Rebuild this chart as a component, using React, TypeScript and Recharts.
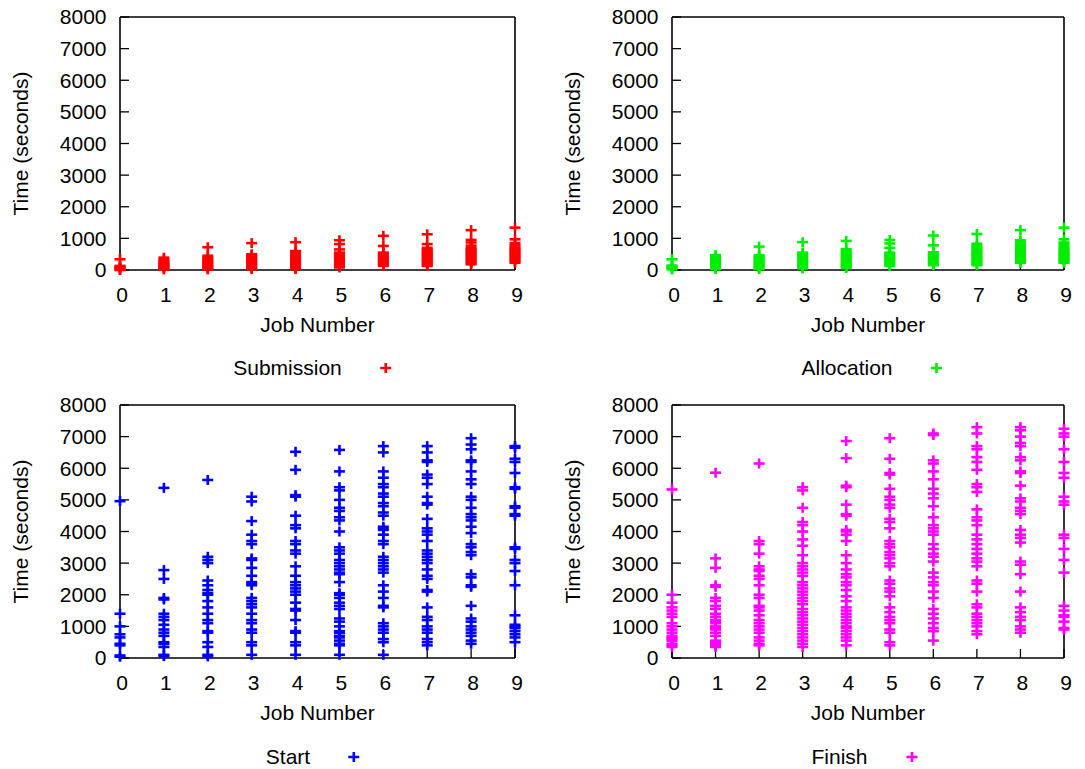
import React from 'react';
import { ScatterChart, Scatter, XAxis, YAxis } from 'recharts';

const jobTicks = [0, 1, 2, 3, 4, 5, 6, 7, 8, 9];
const timeTicks = [0, 1000, 2000, 3000, 4000, 5000, 6000, 7000, 8000];

// seconds, one list per job number (0..9)
const submissionTimes: number[][] = [
  [0, 20, 50, 80, 100, 130, 340],
  [20, 50, 80, 100, 130, 150, 180, 220, 250, 290, 340, 390],
  [20, 50, 80, 110, 140, 180, 220, 260, 300, 350, 400, 450, 720],
  [30, 60, 100, 130, 160, 200, 230, 270, 300, 340, 380, 420, 450, 500, 850],
  [30, 60, 100, 140, 180, 220, 260, 300, 340, 380, 420, 450, 500, 550, 600, 880],
  [80, 120, 160, 200, 240, 280, 320, 360, 400, 440, 480, 520, 550, 650, 820, 940],
  [130, 170, 210, 250, 290, 330, 370, 410, 450, 500, 550, 760, 1080],
  [130, 160, 200, 240, 280, 320, 360, 400, 440, 480, 520, 560, 600, 650, 700, 820, 1130],
  [180, 220, 260, 300, 340, 380, 420, 460, 500, 540, 580, 620, 660, 700, 770, 870, 950, 1260],
  [230, 270, 310, 350, 390, 430, 470, 510, 550, 590, 630, 670, 720, 780, 850, 970, 1340],
];

const allocationTimes: number[][] = [
  [20, 50, 80, 110, 140, 340],
  [30, 60, 100, 140, 180, 220, 260, 300, 340, 380, 420, 470],
  [30, 60, 100, 140, 180, 220, 260, 300, 340, 380, 420, 470, 740],
  [50, 80, 120, 160, 200, 240, 280, 320, 360, 400, 440, 500, 550, 880],
  [60, 100, 140, 180, 220, 260, 300, 340, 380, 420, 460, 500, 550, 600, 660, 920],
  [130, 170, 210, 250, 290, 330, 370, 410, 450, 500, 550, 700, 840, 950],
  [150, 190, 230, 270, 310, 350, 390, 430, 470, 520, 560, 780, 1090],
  [150, 190, 230, 270, 310, 350, 390, 430, 470, 510, 550, 600, 650, 700, 760, 830, 1140],
  [230, 270, 310, 350, 390, 430, 470, 510, 550, 600, 650, 700, 750, 800, 870, 940, 1260],
  [230, 270, 310, 350, 390, 430, 470, 510, 550, 600, 650, 700, 760, 820, 870, 970, 1340],
];

const startTimes: number[][] = [
  [40, 80, 400, 450, 650, 750, 1000, 1400, 4960],
  [60, 100, 350, 450, 500, 700, 800, 900, 1050, 1200, 1300, 1400, 1850, 1900, 2500, 2780, 5380],
  [50, 100, 350, 500, 800, 850, 1100, 1200, 1400, 1600, 1800, 2000, 2050, 2150, 2300, 2450, 3000, 3100, 3200, 5630],
  [100, 400, 500, 800, 900, 1100, 1200, 1400, 1600, 1700, 1800, 1900, 2300, 2350, 2400, 2600, 2850, 3100, 3150, 3600, 3700, 3900, 4330, 4950, 5100],
  [100, 400, 500, 800, 850, 1200, 1500, 1550, 1750, 2000, 2100, 2200, 2300, 2400, 2600, 2900, 3300, 3400, 3600, 3700, 4100, 4200, 4500, 5100, 5150, 5950, 6520],
  [100, 400, 450, 550, 650, 700, 800, 850, 1000, 1150, 1250, 1550, 1650, 1750, 1900, 2000, 2050, 2400, 2650, 2700, 2800, 2900, 3000, 3100, 3300, 3400, 3500, 4000, 4350, 4450, 4650, 4750, 5000, 5300, 5400, 5900, 6580],
  [100, 500, 600, 800, 900, 1000, 1100, 1600, 1650, 1900, 2100, 2300, 2700, 2800, 2900, 3000, 3100, 3200, 3600, 3700, 3900, 4050, 4100, 4150, 4500, 4600, 4800, 4900, 5100, 5200, 5400, 5500, 5700, 5900, 6500, 6700],
  [400, 500, 600, 800, 900, 1000, 1200, 1300, 1600, 2100, 2150, 2500, 2600, 2800, 3000, 3100, 3200, 3300, 3400, 3700, 3900, 4000, 4100, 4400, 4850, 4900, 5100, 5500, 5700, 5800, 6200, 6250, 6500, 6700],
  [450, 550, 700, 800, 900, 1000, 1150, 1250, 1650, 2250, 2300, 2550, 2650, 3250, 3350, 3500, 3600, 3950, 4150, 4350, 4450, 4550, 4750, 5000, 5100, 5500, 5650, 5900, 6200, 6250, 6600, 6750, 6950],
  [500, 650, 750, 850, 950, 1000, 1050, 1350, 2300, 2750, 3000, 3100, 3450, 3500, 4500, 4550, 4750, 4800, 5350, 5400, 5850, 6200, 6300, 6650, 6700],
];

const finishTimes: number[][] = [
  [350, 400, 450, 550, 600, 650, 700, 800, 900, 1000, 1100, 1300, 1400, 1500, 1600, 1750, 2000, 5330],
  [350, 400, 450, 500, 550, 700, 800, 900, 950, 1000, 1100, 1150, 1200, 1300, 1400, 1550, 1650, 1800, 1900, 2250, 2300, 2850, 3150, 5860],
  [400, 450, 550, 650, 800, 900, 1000, 1100, 1200, 1350, 1500, 1600, 1650, 1900, 2000, 2300, 2500, 2600, 2750, 2800, 2900, 3300, 3600, 3700, 6150],
  [350, 450, 550, 650, 750, 850, 950, 1050, 1150, 1250, 1350, 1450, 1550, 1700, 1800, 1900, 2000, 2100, 2200, 2300, 2400, 2600, 2700, 2800, 2900, 3000, 3250, 3550, 3750, 4000, 4200, 4300, 4750, 5300, 5400],
  [400, 550, 650, 750, 850, 950, 1000, 1100, 1200, 1300, 1400, 1500, 1600, 1800, 1950, 2150, 2300, 2400, 2550, 2650, 2800, 3000, 3250, 3700, 3900, 4000, 4050, 4500, 4550, 4850, 5400, 5450, 6320, 6860],
  [400, 500, 800, 900, 1100, 1200, 1300, 1450, 1600, 1950, 2100, 2200, 2350, 2450, 2900, 3000, 3150, 3250, 3350, 3500, 3600, 3700, 4100, 4300, 4400, 4750, 4850, 5000, 5100, 5350, 5800, 5850, 6300, 6950],
  [550, 850, 950, 1100, 1250, 1400, 1550, 1900, 2100, 2300, 2400, 2550, 2700, 3050, 3200, 3300, 3450, 3600, 3900, 4000, 4100, 4200, 4450, 4800, 5050, 5200, 5350, 5650, 5900, 6150, 6250, 7050, 7100],
  [750, 850, 1000, 1100, 1200, 1300, 1400, 1600, 1700, 2100, 2350, 2450, 2900, 3050, 3150, 3300, 3450, 3600, 3750, 3900, 4200, 4350, 4450, 4700, 5250, 5400, 5500, 5950, 6200, 6350, 6600, 6700, 7100, 7300],
  [800, 900, 1000, 1200, 1300, 1450, 1600, 2100, 2650, 2950, 3050, 3650, 3800, 3900, 4050, 4550, 4650, 4750, 4950, 5050, 5450, 5850, 5900, 6250, 6350, 6700, 6800, 7000, 7200, 7300],
  [900, 950, 1150, 1300, 1350, 1500, 1650, 2700, 3100, 3450, 3800, 3900, 4850, 4950, 5100, 5700, 5850, 6200, 6600, 7000, 7100, 7250],
];

const toPoints = (times: number[][]) =>
  times.flatMap((col, job) => col.map(time => ({ job, time })));

const FONT = '"Liberation Sans", Arial, Helvetica, sans-serif';
const W = 540;
const H = 345;

const Plus = ({ cx, cy, color }: { cx: number; cy: number; color: string }) => (
  <g>
    <line x1={cx - 5.5} y1={cy} x2={cx + 5.5} y2={cy} stroke={color} strokeWidth={2.6} />
    <line x1={cx} y1={cy - 5} x2={cx} y2={cy + 5} stroke={color} strokeWidth={2.6} />
  </g>
);

interface PanelProps {
  name: string;
  color: string;
  times: number[][];
  left: number;
  top: number;
  plotLeft: number;
  plotRight: number;
  plotTop: number;
  plotBottom: number;
  legendY: number;
  legendShift: number;
}

const axisLine = { stroke: '#000', strokeWidth: 1.6 };
const tickLine = { stroke: '#000', strokeWidth: 1.3 };

const Panel: React.FC<PanelProps> = (p) => {
  const data = toPoints(p.times);
  const plotCenter = (p.plotLeft + p.plotRight) / 2;

  return (
    <div style={{ position: 'absolute', left: p.left, top: p.top, width: W, height: 385 }}>
      <ScatterChart
        width={W}
        height={H}
        margin={{ top: p.plotTop - 1, right: W - p.plotRight - 1, bottom: 0, left: 0 }}
      >
        <XAxis
          xAxisId="bottom"
          dataKey="job"
          type="number"
          domain={[0, 9]}
          ticks={jobTicks}
          height={H - p.plotBottom}
          axisLine={axisLine}
          tickLine={tickLine}
          tickSize={-9}
          tickMargin={26}
          tick={{ fill: '#000', fontSize: 21, dx: 2 }}
          label={{
            value: 'Job Number',
            content: (lp: any) => {
              const vb = lp.viewBox;
              return (
                <text x={vb.x + vb.width / 2} y={vb.y + 62} textAnchor="middle" fontSize={21} fill="#000">
                  Job Number
                </text>
              );
            },
          }}
        />
        <XAxis
          xAxisId="top"
          orientation="top"
          type="number"
          domain={[0, 9]}
          ticks={jobTicks}
          height={1}
          axisLine={axisLine}
          tickLine={tickLine}
          tickSize={-9}
          tick={false}
        />
        <YAxis
          yAxisId="left"
          dataKey="time"
          type="number"
          domain={[0, 8000]}
          ticks={timeTicks}
          width={p.plotLeft}
          axisLine={axisLine}
          tickLine={tickLine}
          tickSize={-9}
          tickMargin={22.5}
          tick={{ fill: '#000', fontSize: 21 }}
          label={{
            value: 'Time (seconds)',
            content: (lp: any) => {
              const vb = lp.viewBox;
              const x = vb.x + vb.width - 92;
              const y = vb.y + vb.height / 2;
              return (
                <text x={x} y={y} transform={`rotate(-90, ${x}, ${y})`} textAnchor="middle" fontSize={21} fill="#000">
                  Time (seconds)
                </text>
              );
            },
          }}
        />
        <YAxis
          yAxisId="right"
          orientation="right"
          type="number"
          domain={[0, 8000]}
          ticks={timeTicks}
          width={1}
          axisLine={axisLine}
          tickLine={tickLine}
          tickSize={-9}
          tick={false}
        />
        <Scatter
          name={p.name}
          xAxisId="bottom"
          yAxisId="left"
          data={data}
          fill={p.color}
          isAnimationActive={false}
          shape={(sp: any) => <Plus cx={sp.cx} cy={sp.cy} color={p.color} />}
        />
      </ScatterChart>
      <div
        style={{
          position: 'absolute',
          left: plotCenter + p.legendShift,
          top: p.legendY,
          transform: 'translate(-50%, -50%)',
          display: 'flex',
          alignItems: 'center',
          fontSize: 21,
          lineHeight: '24px',
          whiteSpace: 'nowrap',
        }}
      >
        <span>{p.name}</span>
        <svg width={12} height={12} style={{ marginLeft: 38 }}>
          <Plus cx={6} cy={6} color={p.color} />
        </svg>
      </div>
    </div>
  );
};

export default function App() {
  return (
    <div
      style={{
        position: 'fixed',
        left: 0,
        top: 0,
        width: 1085,
        height: 769,
        background: '#fff',
        fontFamily: FONT,
        color: '#000',
      }}
    >
      <Panel name="Submission" color="#ff0000" times={submissionTimes}
        left={0} top={0} plotLeft={120} plotRight={515} plotTop={17} plotBottom={270} legendY={368} legendShift={-5} />
      <Panel name="Allocation" color="#00ee00" times={allocationTimes}
        left={540} top={0} plotLeft={132} plotRight={524} plotTop={17} plotBottom={270} legendY={368} legendShift={4} />
      <Panel name="Start" color="#0000ff" times={startTimes}
        left={0} top={390} plotLeft={120} plotRight={515} plotTop={15} plotBottom={268} legendY={367} legendShift={-4.5} />
      <Panel name="Finish" color="#ff00ff" times={finishTimes}
        left={540} top={390} plotLeft={132} plotRight={524} plotTop={15} plotBottom={268} legendY={367} legendShift={-3.5} />
    </div>
  );
}
